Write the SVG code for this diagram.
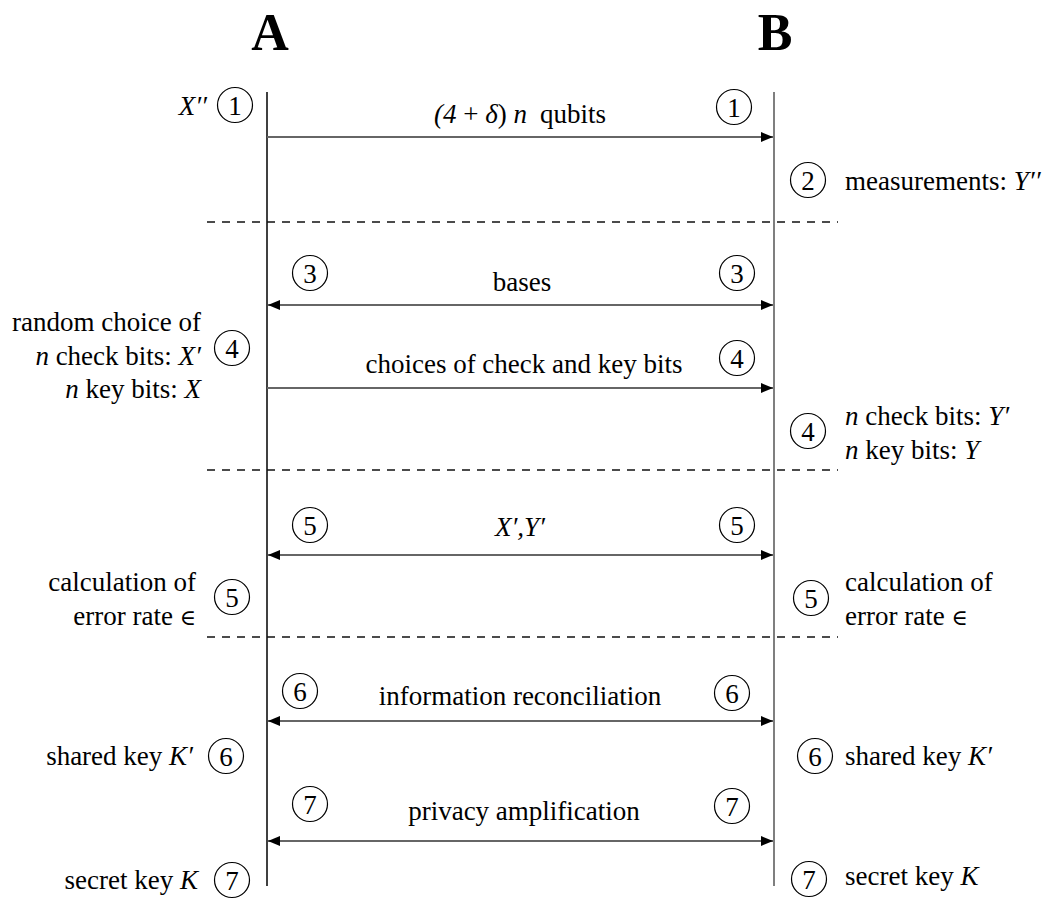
<svg xmlns="http://www.w3.org/2000/svg" width="1048" height="915" viewBox="0 0 1048 915" font-family="'Liberation Serif','Times New Roman','DejaVu Serif',serif">
<style>
text{font-family:"Liberation Serif","Times New Roman","DejaVu Serif",serif;font-size:26px;fill:#000}
.t{font-size:27px}
.h{font-size:52px;font-weight:bold}
.n{font-size:27px;text-anchor:middle}
.c{fill:none;stroke:#000;stroke-width:1.2}
.i{font-style:italic}
.r{text-anchor:end}
.m{text-anchor:middle}
.el{font-size:22px}
.life{stroke-width:1.5}
.dash{stroke:#111;stroke-width:1.3;stroke-dasharray:8,7}
.arr{stroke:#666;stroke-width:2;fill:none}
</style>
<defs>
<marker id="ah" viewBox="0 0 12 10" refX="12" refY="5" markerWidth="12" markerHeight="10" markerUnits="userSpaceOnUse" orient="auto-start-reverse">
<path d="M0,0 L12,5 L0,10 z" fill="#000"/>
</marker>
<g id="circ"><circle r="17.5" class="c"/></g>
</defs>
<g id="titles">
<text class="h m" x="270" y="50">A</text>
<text class="h m" x="775" y="50">B</text>
</g>
<g id="lifelines">
<line x1="267" y1="92" x2="267" y2="886" stroke="#000" class="life"/>
<line x1="774" y1="92" x2="774" y2="886" stroke="#555" class="life"/>
</g>
<g id="separators">
<line class="dash" x1="207" y1="222" x2="838" y2="222"/>
<line class="dash" x1="207" y1="470" x2="838" y2="470"/>
<line class="dash" x1="207" y1="637" x2="838" y2="637"/>
</g>
<g id="connectors">
<line class="arr" x1="267" y1="137" x2="773" y2="137" marker-end="url(#ah)"/>
<line class="arr" x1="268" y1="305" x2="773" y2="305" marker-start="url(#ah)" marker-end="url(#ah)"/>
<line class="arr" x1="267" y1="388" x2="773" y2="388" marker-end="url(#ah)"/>
<line class="arr" x1="268" y1="555" x2="773" y2="555" marker-start="url(#ah)" marker-end="url(#ah)"/>
<line class="arr" x1="268" y1="721" x2="773" y2="721" marker-start="url(#ah)" marker-end="url(#ah)"/>
<line class="arr" x1="268" y1="841" x2="773" y2="841" marker-start="url(#ah)" marker-end="url(#ah)"/>
</g>
<g id="msg1">
<text class="t m" x="520" y="123"><tspan class="i">(4</tspan> + <tspan class="i">δ</tspan>) <tspan class="i">n</tspan><tspan dx="13">qubits</tspan></text>
</g>
<g id="msg3"><text class="t m" x="522" y="291">bases</text></g>
<g id="msg4"><text class="t m" x="524" y="373">choices of check and key bits</text></g>
<g id="msg5"><text class="t m i" x="520" y="536">X′,Y′</text></g>
<g id="msg6"><text class="t m" x="520" y="705">information reconciliation</text></g>
<g id="msg7"><text class="t m" x="524" y="820">privacy amplification</text></g>

<g id="step1-A">
<use href="#circ" x="235" y="105"/><text class="n" x="235" y="115">1</text>
<text class="t r i" x="207" y="115">X′′</text>
</g>
<g id="step1-B"><use href="#circ" x="734" y="107"/><text class="n" x="734" y="117">1</text></g>
<g id="step2-B">
<use href="#circ" x="808" y="180"/><text class="n" x="808" y="190">2</text>
<text class="t" x="845" y="190">measurements: <tspan class="i">Y′′</tspan></text>
</g>
<g id="step3-A"><use href="#circ" x="310" y="273"/><text class="n" x="310" y="283">3</text></g>
<g id="step3-B"><use href="#circ" x="737" y="273"/><text class="n" x="737" y="283">3</text></g>
<g id="step4-A">
<use href="#circ" x="232" y="348"/><text class="n" x="232" y="358">4</text>
<text class="t r" x="201" y="331">random choice of</text>
<text class="t r" x="201" y="365"><tspan class="i">n</tspan> check bits: <tspan class="i">X′</tspan></text>
<text class="t r" x="201" y="398"><tspan class="i">n</tspan> key bits: <tspan class="i">X</tspan></text>
</g>
<g id="step4-msg"><use href="#circ" x="737" y="358"/><text class="n" x="737" y="368">4</text></g>
<g id="step4-B">
<use href="#circ" x="808" y="431"/><text class="n" x="808" y="441">4</text>
<text class="t" x="845" y="425"><tspan class="i">n</tspan> check bits: <tspan class="i">Y′</tspan></text>
<text class="t" x="845" y="459"><tspan class="i">n</tspan> key bits: <tspan class="i">Y</tspan></text>
</g>
<g id="step5-msgA"><use href="#circ" x="310" y="525"/><text class="n" x="310" y="535">5</text></g>
<g id="step5-msgB"><use href="#circ" x="737" y="525"/><text class="n" x="737" y="535">5</text></g>
<g id="step5-A">
<use href="#circ" x="232" y="597"/><text class="n" x="232" y="607">5</text>
<text class="t r" x="196" y="591">calculation of</text>
<text class="t r" x="196" y="625">error rate <tspan class="el">∈</tspan></text>
</g>
<g id="step5-B">
<use href="#circ" x="811" y="598"/><text class="n" x="811" y="608">5</text>
<text class="t" x="845" y="591">calculation of</text>
<text class="t" x="845" y="625">error rate <tspan class="el">∈</tspan></text>
</g>
<g id="step6-msgA"><use href="#circ" x="300" y="691"/><text class="n" x="300" y="701">6</text></g>
<g id="step6-msgB"><use href="#circ" x="732" y="693"/><text class="n" x="732" y="703">6</text></g>
<g id="step6-A">
<use href="#circ" x="226" y="756"/><text class="n" x="226" y="766">6</text>
<text class="t r" x="193" y="765">shared key <tspan class="i">K′</tspan></text>
</g>
<g id="step6-B">
<use href="#circ" x="815" y="756"/><text class="n" x="815" y="766">6</text>
<text class="t" x="845" y="765">shared key <tspan class="i">K′</tspan></text>
</g>
<g id="step7-msgA"><use href="#circ" x="310" y="804"/><text class="n" x="310" y="814">7</text></g>
<g id="step7-msgB"><use href="#circ" x="732" y="806"/><text class="n" x="732" y="816">7</text></g>
<g id="step7-A">
<use href="#circ" x="232" y="880"/><text class="n" x="232" y="890">7</text>
<text class="t r" x="198" y="889">secret key <tspan class="i">K</tspan></text>
</g>
<g id="step7-B">
<use href="#circ" x="809" y="879"/><text class="n" x="809" y="889">7</text>
<text class="t" x="845" y="885">secret key <tspan class="i">K</tspan></text>
</g>
</svg>
